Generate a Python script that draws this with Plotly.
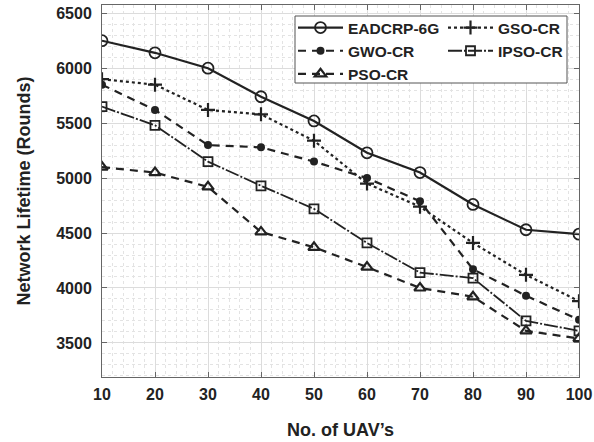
import plotly.graph_objects as go

uavs = [10, 20, 30, 40, 50, 60, 70, 80, 90, 100]
eadcrp = [6250, 6140, 6000, 5740, 5520, 5230, 5050, 4760, 4530, 4490]
gso = [5900, 5850, 5620, 5580, 5340, 4950, 4740, 4410, 4120, 3880]
gwo = [5850, 5620, 5300, 5280, 5150, 5000, 4790, 4170, 3930, 3710]
ipso = [5650, 5480, 5150, 4930, 4720, 4410, 4140, 4090, 3700, 3610]
pso = [5100, 5050, 4920, 4510, 4370, 4190, 4000, 3920, 3610, 3540]
y_ticks = [3500, 4000, 4500, 5000, 5500, 6000, 6500]
x_ticks = uavs

INK = "#222222"
FONT = "Liberation Sans"

fig = go.Figure()
fig.add_trace(go.Scatter(x=uavs, y=eadcrp, name="EADCRP-6G", mode="lines+markers",
                         line=dict(color=INK, width=2.2, dash="solid"),
                         marker=dict(symbol="circle-open", size=11, color=INK, line=dict(width=1.8)),
                         legend="legend"))
fig.add_trace(go.Scatter(x=uavs, y=gso, name="GSO-CR", mode="lines+markers",
                         line=dict(color=INK, width=2.2, dash="dot"),
                         marker=dict(symbol="cross-thin-open", size=10, color=INK, line=dict(width=2.2, color=INK)),
                         legend="legend2"))
fig.add_trace(go.Scatter(x=uavs, y=gwo, name="GWO-CR", mode="lines+markers",
                         line=dict(color=INK, width=2.2, dash="8px,6px"),
                         marker=dict(symbol="circle", size=8, color=INK),
                         legend="legend"))
fig.add_trace(go.Scatter(x=uavs, y=ipso, name="IPSO-CR", mode="lines+markers",
                         line=dict(color=INK, width=1.8, dash="14px,2px,2px,2px"),
                         marker=dict(symbol="square-open", size=9, color=INK, line=dict(width=1.8)),
                         legend="legend2"))
fig.add_trace(go.Scatter(x=uavs, y=pso, name="PSO-CR", mode="lines+markers",
                         line=dict(color=INK, width=2.2, dash="8px,6px"),
                         marker=dict(symbol="triangle-up-open", size=10, color=INK, line=dict(width=2.2)),
                         legend="legend"))

W, H = 594, 442
L, R, T, B = 102, 15, 5, 65
pw, ph = W - L - R, H - T - B

def px(xp):
    return (xp - L) / pw

def py(yp):
    return (H - B - yp) / ph

legend_common = dict(bgcolor="rgba(0,0,0,0)", borderwidth=0, orientation="v",
                     xanchor="left", yanchor="top", itemwidth=45, tracegroupgap=0,
                     font=dict(family=FONT, size=15.5, color=INK, weight="bold"))

fig.update_layout(
    width=W, height=H,
    margin=dict(l=L, r=R, t=T, b=B, autoexpand=False),
    paper_bgcolor="white", plot_bgcolor="white",
    font=dict(family=FONT, color=INK, weight="bold"),
    showlegend=True,
    legend=dict(x=px(293), y=py(11), **legend_common),
    legend2=dict(x=px(443), y=py(11), **legend_common),
    shapes=[dict(type="rect", xref="paper", yref="paper",
                 x0=px(295), x1=px(567), y0=py(83), y1=py(16),
                 line=dict(color="#555555", width=1), fillcolor="white", layer="above")],
)

axis_common = dict(showline=True, linecolor="#666666", linewidth=1, mirror="ticks",
                   ticks="inside", ticklen=5, tickcolor="#666666",
                   showgrid=True, gridcolor="#dcdcdc", gridwidth=1, zeroline=False,
                   tickfont=dict(family=FONT, size=16, color=INK, weight="bold"))

fig.update_xaxes(range=[10, 100], tickvals=x_ticks, ticklabelstandoff=3,
                 minor=dict(dtick=2, showgrid=True, gridcolor="#e3e3e3", griddash="dot", ticks=""),
                 title=dict(text="No. of UAV’s", standoff=21,
                            font=dict(family=FONT, size=18, color=INK, weight="bold")),
                 **axis_common)
fig.update_yaxes(range=[3190, 6575], tickvals=y_ticks, ticklabelstandoff=6,
                 minor=dict(dtick=100, showgrid=True, gridcolor="#e3e3e3", griddash="dot", ticks=""),
                 title=dict(text="Network Lifetime (Rounds)", standoff=20,
                            font=dict(family=FONT, size=18, color=INK, weight="bold")),
                 **axis_common)

fig.write_html("out.html")
